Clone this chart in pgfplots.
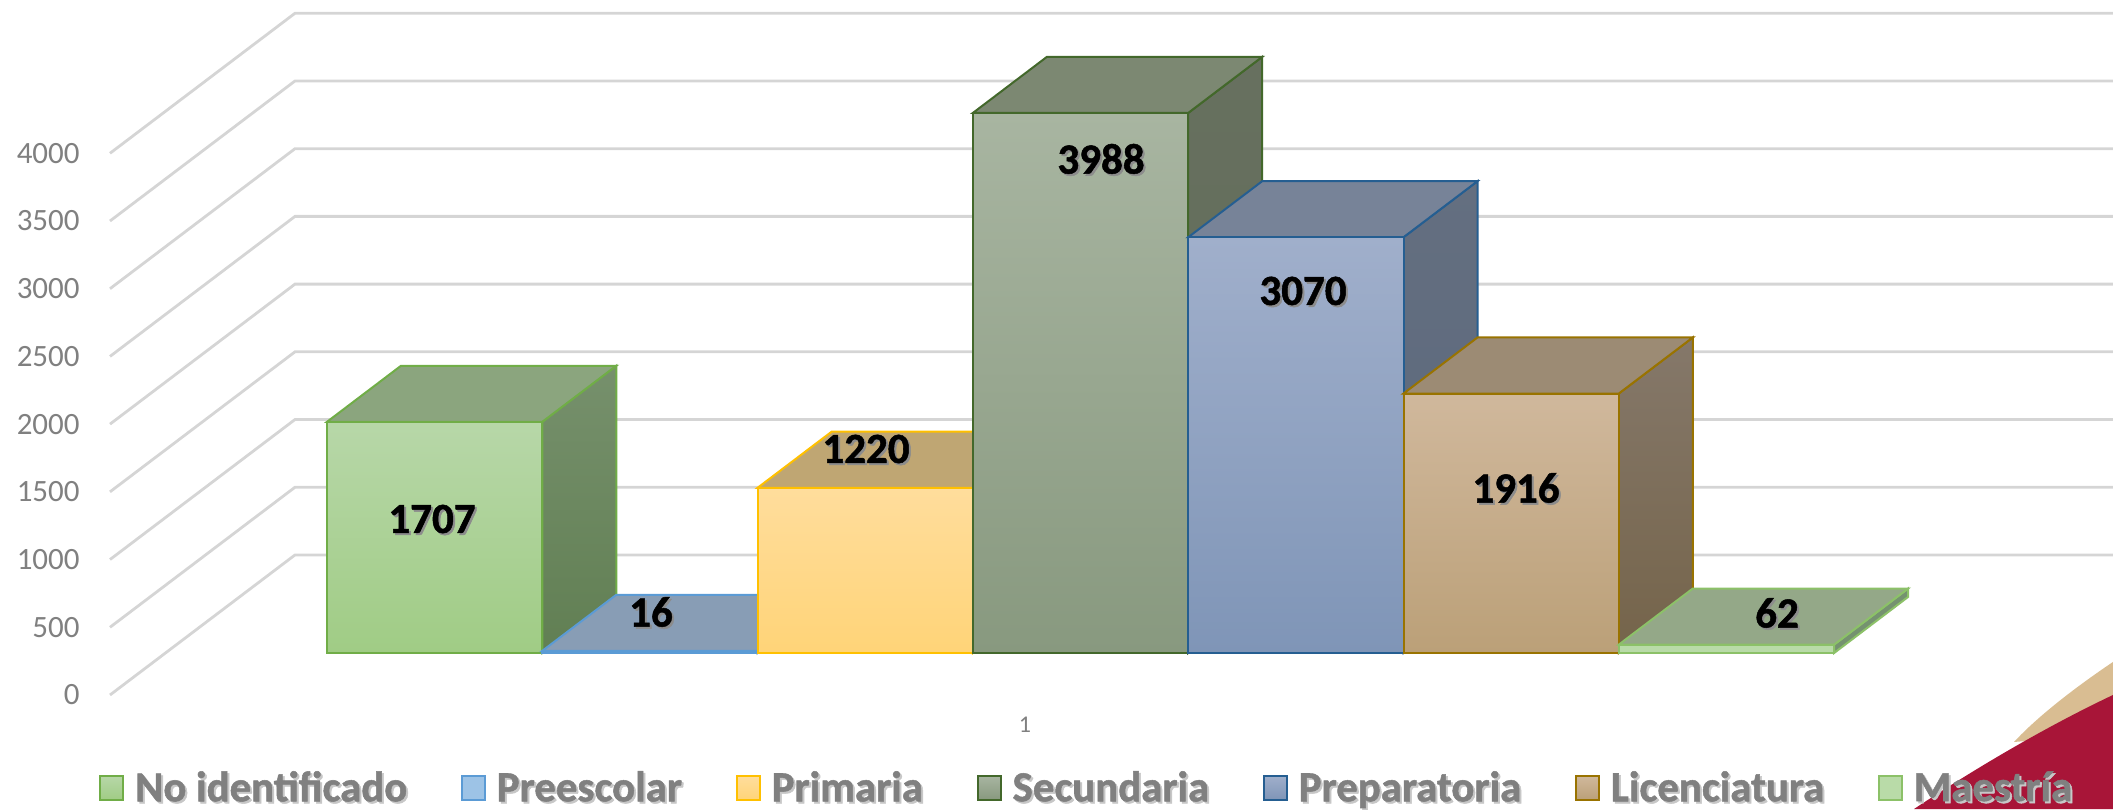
\documentclass[border=0pt]{standalone}
\usepackage{fontspec}
\setmainfont{Carlito}[BoldFeatures={FakeBold=1.2}]
\usepackage{pgfplots}
\pgfplotsset{compat=1.18}
% colours: e edge, a front top, b front bottom, c side top, d side bottom, t top face
\definecolor{Ae}{HTML}{70AD47}\definecolor{Aa}{HTML}{B7D7A8}\definecolor{Ab}{HTML}{A0CC85}\definecolor{Ac}{HTML}{76906C}\definecolor{Ad}{HTML}{617F53}\definecolor{At}{HTML}{8BA57E}
\definecolor{Be}{HTML}{5B9BD5}\definecolor{Ba}{HTML}{9DC3E6}\definecolor{Bb}{HTML}{9DC3E6}\definecolor{Bc}{HTML}{6F8FAF}\definecolor{Bd}{HTML}{6F8FAF}\definecolor{Bt}{HTML}{889DB5}
\definecolor{Ce}{HTML}{FFC000}\definecolor{Ca}{HTML}{FFDD9C}\definecolor{Cb}{HTML}{FFD478}\definecolor{Cc}{HTML}{BFA673}\definecolor{Cd}{HTML}{BFA673}\definecolor{Ct}{HTML}{BFA673}
\definecolor{De}{HTML}{43682B}\definecolor{Da}{HTML}{A8B5A1}\definecolor{Db}{HTML}{88997F}\definecolor{Dc}{HTML}{67705F}\definecolor{Dd}{HTML}{606C58}\definecolor{Dt}{HTML}{7C8872}
\definecolor{Ee}{HTML}{255E91}\definecolor{Ea}{HTML}{A0AFCB}\definecolor{Eb}{HTML}{7F95B7}\definecolor{Ec}{HTML}{646F80}\definecolor{Ed}{HTML}{5A677C}\definecolor{Et}{HTML}{778398}
\definecolor{Fe}{HTML}{997300}\definecolor{Fa}{HTML}{D0B89C}\definecolor{Fb}{HTML}{BBA078}\definecolor{Fc}{HTML}{85786A}\definecolor{Fd}{HTML}{75644A}\definecolor{Ft}{HTML}{9C8B74}
\definecolor{Ge}{HTML}{8CC168}\definecolor{Ga}{HTML}{B9DBA8}\definecolor{Gb}{HTML}{B9DBA8}\definecolor{Gc}{HTML}{759270}\definecolor{Gd}{HTML}{759270}\definecolor{Gt}{HTML}{94A888}
\definecolor{gridc}{HTML}{D5D5D5}
\definecolor{axtext}{HTML}{808080}
\definecolor{crimson}{HTML}{A81538}
\definecolor{sand}{HTML}{D9BD92}
% one 3D column: left edge, value, colour prefix
\newcommand{\tdbar}[3]{%
  \pgfmathsetmacro{\xa}{#1}\pgfmathsetmacro{\xb}{#1+215.3}
  \pgfmathsetmacro{\xc}{#1+289.3}\pgfmathsetmacro{\xd}{#1+74}
  \pgfmathsetmacro{\xm}{#1+107.65}
  \pgfmathsetmacro{\yt}{#2+414}
  \edef\tmp{\noexpand\addplot[forget plot,line width=1pt,draw=#3e,shade,top color=#3c,bottom color=#3d]
     coordinates {(\xb,0)(\xc,414)(\xc,\yt)(\xb,#2)} -- cycle;}\tmp
  \edef\tmp{\noexpand\addplot[forget plot,line width=1pt,draw=#3e,fill=#3t]
     coordinates {(\xa,#2)(\xd,\yt)(\xc,\yt)(\xb,#2)} -- cycle;}\tmp
  \edef\tmp{\noexpand\addplot[forget plot,ybar,bar shift=0pt,bar width=215.3,line width=1pt,draw=#3e,shade,top color=#3a,bottom color=#3b]
     coordinates {(\xm,#2)};}\tmp
}
\newcommand{\shadowtext}[3]{\leavevmode\rlap{\raisebox{-1pt}{\hspace{1pt}\textcolor{#2}{#3}}}\textcolor{#1}{#3}}
\newcommand{\vallabel}[3]{\node[font=\bfseries\fontsize{21.5}{23}\selectfont,inner sep=0pt] at (axis cs:#1,#2) {\shadowtext{black}{black!45}{#3}};}
\newcommand{\legtext}[1]{\bfseries\shadowtext{axtext}{black!22}{#1}}
\pgfplotsset{swatch/.style={legend image code/.code={\draw[##1,line width=1pt] (0pt,-6pt) rectangle (11.5pt,6pt);}}}
\begin{document}
\begin{tikzpicture}
\begin{axis}[
  scale only axis, width=1056.5pt, height=404.5pt,
  xmin=0, xmax=2113, ymin=-1152, ymax=4822,
  axis line style={draw=none},
  major tick length=0pt,
  tick style={draw=none},
  xtick={1025}, xticklabels={1},
  ytick={-310,190,690,1190,1690,2190,2690,3190,3690},
  yticklabels={0,500,1000,1500,2000,2500,3000,3500,4000},
  yticklabel style={anchor=east,xshift=40pt,font=\fontsize{15.5}{16}\selectfont,text=axtext,inner sep=0pt},
  xticklabel style={anchor=center,yshift=42pt,font=\fontsize{12}{13}\selectfont,text=axtext,inner sep=0pt},
  legend columns=7,
  legend cell align=left,
  legend style={at={(axis cs:99,-995)},anchor=west,draw=none,fill=none,inner sep=0pt,
    font=\fontsize{21.4}{23}\selectfont,
    /tikz/every even column/.append style={column sep=24.9pt},
    /tikz/every odd column/.append style={column sep=3.4pt}},
]
\fill[sand] (axis cs:2014,-657) .. controls (axis cs:2040,-450) and (axis cs:2080,-230) .. (axis cs:2113,-66) -- (axis cs:2113,-600) -- cycle;
\fill[crimson] (axis cs:1914,-1152) .. controls (axis cs:1980,-829) and (axis cs:2050,-530) .. (axis cs:2113,-310) -- (axis cs:2113,-1152) -- cycle;
% gridlines
\addplot[forget plot,gridc,line width=1.4pt] coordinates {(110,-310)(295,724)(2113,724)};
\addplot[forget plot,gridc,line width=1.4pt] coordinates {(110,190)(295,1224)(2113,1224)};
\addplot[forget plot,gridc,line width=1.4pt] coordinates {(110,690)(295,1724)(2113,1724)};
\addplot[forget plot,gridc,line width=1.4pt] coordinates {(110,1190)(295,2224)(2113,2224)};
\addplot[forget plot,gridc,line width=1.4pt] coordinates {(110,1690)(295,2724)(2113,2724)};
\addplot[forget plot,gridc,line width=1.4pt] coordinates {(110,2190)(295,3224)(2113,3224)};
\addplot[forget plot,gridc,line width=1.4pt] coordinates {(110,2690)(295,3724)(2113,3724)};
\addplot[forget plot,gridc,line width=1.4pt] coordinates {(110,3190)(295,4224)(2113,4224)};
\addplot[forget plot,gridc,line width=1.4pt] coordinates {(110,3690)(295,4724)(2113,4724)};
% columns
\tdbar{327}{1707}{A}
\tdbar{542.3}{16}{B}
\tdbar{757.6}{1220}{C}
\tdbar{972.9}{3988}{D}
\tdbar{1188.2}{3070}{E}
\tdbar{1403.5}{1916}{F}
\tdbar{1618.8}{62}{G}
% legend
\addlegendimage{swatch,draw=Ae,shade,top color=Aa,bottom color=Ab}
\addlegendentry{\legtext{No identificado}}
\addlegendimage{swatch,draw=Be,fill=Ba}
\addlegendentry{\legtext{Preescolar}}
\addlegendimage{swatch,draw=Ce,shade,top color=Ca,bottom color=Cb}
\addlegendentry{\legtext{Primaria}}
\addlegendimage{swatch,draw=De,shade,top color=Da,bottom color=Db}
\addlegendentry{\legtext{Secundaria}}
\addlegendimage{swatch,draw=Ee,shade,top color=Ea,bottom color=Eb}
\addlegendentry{\legtext{Preparatoria}}
\addlegendimage{swatch,draw=Fe,shade,top color=Fa,bottom color=Fb}
\addlegendentry{\legtext{Licenciatura}}
\addlegendimage{swatch,draw=Ge,fill=Ga}
\addlegendentry{\legtext{Maestría}}
% data labels
\vallabel{432}{982}{1707}
\vallabel{651}{295}{16}
\vallabel{866}{1499}{1220}
\vallabel{1101}{3641}{3988}
\vallabel{1303}{2666}{3070}
\vallabel{1516}{1211}{1916}
\vallabel{1777}{288}{62}
\end{axis}
\end{tikzpicture}
\end{document}
